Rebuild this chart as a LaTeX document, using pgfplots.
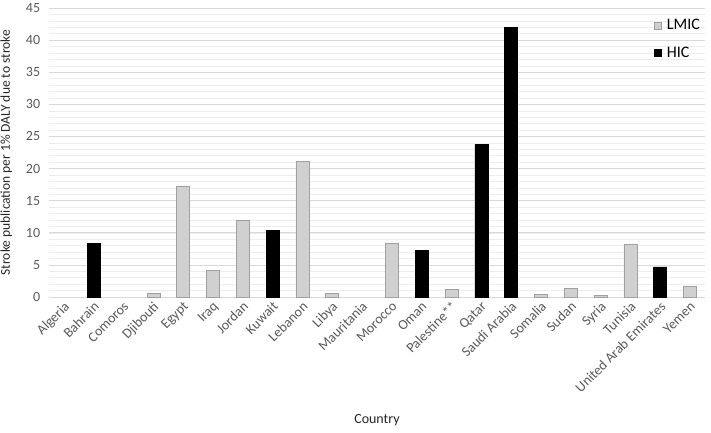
\documentclass[border=0pt]{standalone}
\usepackage{pgfplots}
\pgfplotsset{compat=1.18}
\usepackage{fontspec}
\setmainfont{Carlito}
\definecolor{lmic}{HTML}{D0D0D0}
\definecolor{lmicedge}{HTML}{A0A0A0}
\definecolor{tickgray}{HTML}{595959}
\definecolor{gridmaj}{HTML}{D9D9D9}
\definecolor{gridmin}{HTML}{EDEDED}
\begin{document}
\begin{tikzpicture}
\fontsize{14bp}{16bp}\selectfont
\begin{axis}[
  name=ax,
  scale only axis,
  width=656bp, height=289bp,
  xmin=-0.5, xmax=21.5,
  ymin=0, ymax=45,
  ytick={0,5,...,45},
  minor ytick={1,2,...,44},
  ymajorgrids, yminorgrids,
  major grid style={gridmaj, line width=0.6pt},
  minor grid style={gridmin, line width=0.5pt},
  axis x line*=bottom,
  axis y line*=left,
  y axis line style={draw=none},
  x axis line style={gridmaj, line width=0.8pt, -},
  xtick={0,...,21},
  xticklabels={Algeria,Bahrain,Comoros,Djibouti,Egypt,Iraq,Jordan,Kuwait,Lebanon,Libya,Mauritania,Morocco,Oman,Palestine**,Qatar,Saudi Arabia,Somalia,Sudan,Syria,Tunisia,United Arab Emirates,Yemen},
  xticklabel style={rotate=45, anchor=north east, font=\fontsize{14bp}{16bp}\selectfont, color=tickgray, inner sep=2pt, xshift=-1bp},
  yticklabel style={font=\fontsize{14bp}{16bp}\selectfont, color=tickgray, xshift=-4bp},
  /pgf/number format/assume math mode=true,
  major tick length=0pt, minor tick length=0pt,
  ylabel={Stroke publication per 1\% DALY due to stroke},
  ylabel style={font=\fontsize{13.5bp}{16bp}\selectfont, color=black!85, at={(rel axis cs:0,0.5)}, anchor=south, rotate=0, yshift=32bp},
  xlabel={Country},
  xlabel style={font=\fontsize{14bp}{16bp}\selectfont, color=black!85, at={(rel axis cs:0.5,0)}, anchor=center, yshift=-123bp},
  ybar, bar width=13bp, bar shift=0pt,
  legend style={draw=none, fill=none, at={(rel axis cs:1,0.975)}, anchor=north east, row sep=11bp, font=\fontsize{16bp}{18bp}\selectfont, legend cell align=left, /tikz/every odd column/.append style={column sep=3bp}},
  legend image code/.code={\draw[#1] (0bp,-3.5bp) rectangle (7bp,3.5bp);},
]
\addplot[fill=lmic, draw=lmicedge, line width=0.6pt] coordinates {
(3,0.6) (4,17.3) (5,4.2) (6,11.9) (8,21.1) (9,0.6) (11,8.3) (13,1.2) (16,0.4) (17,1.35) (18,0.3) (19,8.2) (21,1.65)
};
\addlegendentry{LMIC}
\addplot[fill=black, draw=black, line width=0.6pt] coordinates {
(1,8.3) (7,10.4) (12,7.2) (14,23.7) (15,42.0) (20,4.7)
};
\addlegendentry{HIC}
\end{axis}
\pgfresetboundingbox
\path ([xshift=-49bp,yshift=-136bp]ax.south west) rectangle ([xshift=6bp,yshift=8bp]ax.north east);
\end{tikzpicture}
\end{document}
